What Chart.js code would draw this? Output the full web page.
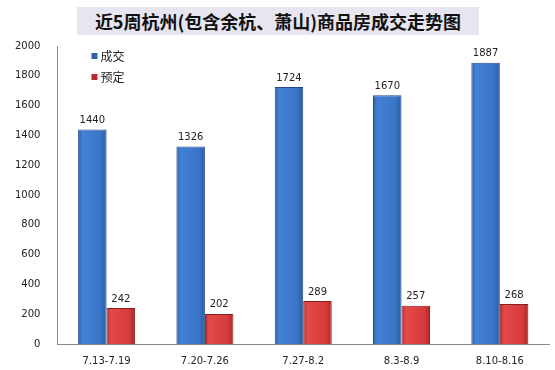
<!DOCTYPE html>
<html>
<head>
<meta charset="utf-8">
<script src="https://cdn.jsdelivr.net/npm/chart.js@4.4.1/dist/chart.umd.min.js"></script>
<style>
  body { margin: 0; background: #fff; }
  #wrap { position: relative; width: 555px; height: 370px; }
  #title {
    position: absolute; left: 77px; top: 7px; width: 402px; height: 28px;
    background: #e7e5ef; text-align: center; line-height: 28px; white-space: nowrap;
    font-family: "Noto Sans CJK SC", sans-serif; font-size: 18px; font-weight: bold; color: #111;
  }
</style>
</head>
<body>
<div id="wrap">
  <canvas id="chart" width="555" height="370"></canvas>
  <div id="title">近5周杭州(包含余杭、萧山)商品房成交走势图</div>
</div>
<script>
var weeks = ['7.13-7.19', '7.20-7.26', '7.27-8.2', '8.3-8.9', '8.10-8.16'];
var dealt = [1440, 1326, 1724, 1670, 1887];   // 成交
var booked = [242, 202, 289, 257, 268];       // 预定
var yTicks = [0, 200, 400, 600, 800, 1000, 1200, 1400, 1600, 1800, 2000];

var CAT_PCT = 0.58;

// horizontal gradient so the bars get the rounded 3D look
function barFill(stops, offset) {
    return function(ctx) {
        var chart = ctx.chart;
        var xs = chart.scales.x;
        if (!xs || !chart.chartArea) return stops[1];
        var catW = xs.width / weeks.length;
        var w = catW * CAT_PCT / 2;
        var cx = xs.getPixelForValue(ctx.dataIndex) + offset * w / 2;
        var g = chart.ctx.createLinearGradient(cx - w / 2, 0, cx + w / 2, 0);
        g.addColorStop(0, stops[0]);
        g.addColorStop(0.15, stops[1]);
        g.addColorStop(0.8, stops[2]);
        g.addColorStop(1, stops[3]);
        return g;
    };
}

var valueLabels = {
    id: 'valueLabels',
    afterDatasetsDraw: function(chart) {
        var c = chart.ctx;
        c.save();
        c.font = '10px "DejaVu Sans"';
        c.fillStyle = '#222';
        c.textAlign = 'center';
        c.textBaseline = 'bottom';
        chart.data.datasets.forEach(function(ds, i) {
            chart.getDatasetMeta(i).data.forEach(function(bar, j) {
                c.fillText(ds.data[j], bar.x, bar.y - 4);
            });
        });
        c.restore();
    }
};

var insideLegend = {
    id: 'insideLegend',
    afterDraw: function(chart) {
        var c = chart.ctx;
        var x = chart.chartArea.left + 34, y = chart.chartArea.top + 10;
        c.save();
        c.font = '12px "Noto Sans CJK SC"';
        c.textBaseline = 'middle';
        chart.data.datasets.forEach(function(ds, i) {
            var yy = y + i * 21;
            c.fillStyle = ds.legendColor;
            c.fillRect(x, yy - 3, 6, 6);
            c.fillStyle = '#222';
            c.fillText(ds.label, x + 9, yy);
        });
        c.restore();
    }
};

new Chart(document.getElementById('chart'), {
    type: 'bar',
    data: {
        labels: weeks,
        datasets: [{
            label: '成交',
            data: dealt,
            legendColor: '#2f62b0',
            backgroundColor: barFill(['#2c5ca4', '#4281d6', '#3a74c6', '#2b59a0'], -1),
            borderColor: '#224a88',
            borderWidth: 1
        }, {
            label: '预定',
            data: booked,
            legendColor: '#b82c2c',
            backgroundColor: barFill(['#b32e2e', '#e44a4a', '#d63a3a', '#ab2828'], 1),
            borderColor: '#8a1e1e',
            borderWidth: 1
        }]
    },
    options: {
        responsive: false,
        animation: false,
        layout: { padding: { top: 46, left: 6, right: 6, bottom: 0 } },
        datasets: { bar: { categoryPercentage: CAT_PCT, barPercentage: 1 } },
        plugins: {
            legend: { display: false },
            tooltip: { enabled: false }
        },
        scales: {
            x: {
                grid: { display: false },
                border: { display: true, color: '#8a8a8a' },
                ticks: { color: '#222', font: { family: 'DejaVu Sans', size: 10 }, padding: 3 }
            },
            y: {
                min: 0, max: 2000,
                afterBuildTicks: function(axis) {
                    axis.ticks = yTicks.map(function(v) { return { value: v }; });
                },
                grid: { display: false },
                border: { display: true, color: '#8a8a8a' },
                ticks: {
                    color: '#222', font: { family: 'DejaVu Sans', size: 10 }, padding: 9,
                    callback: function(v) { return String(v); }
                }
            }
        }
    },
    plugins: [valueLabels, insideLegend]
});
</script>
</body>
</html>
